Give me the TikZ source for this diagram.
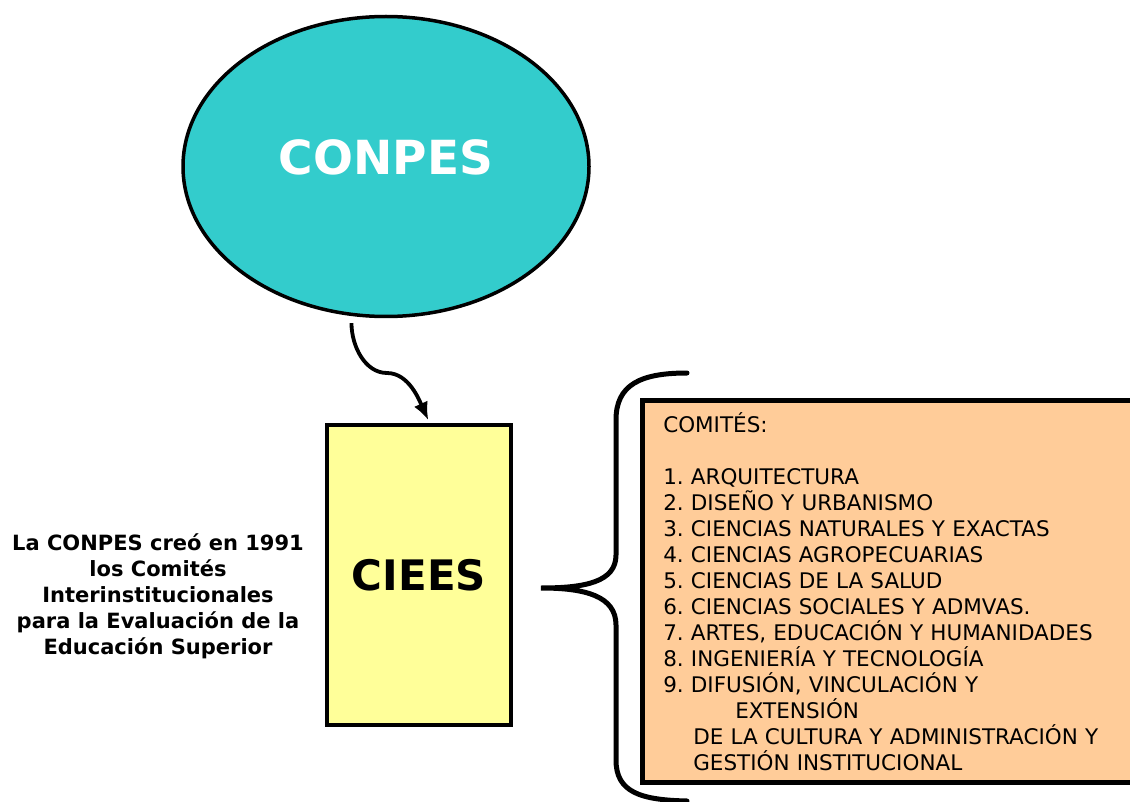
\documentclass[tikz,border=0pt]{standalone}
\usepackage{fontspec}
\setmainfont{DejaVu Sans}
\usetikzlibrary{positioning,shapes,arrows.meta}
\definecolor{turquesa}{RGB}{51,204,204}
\definecolor{amarillo}{RGB}{255,255,153}
\definecolor{durazno}{RGB}{255,204,153}
\frenchspacing

\begin{document}
\begin{tikzpicture}
 		[x=1pt, y=-1pt,
 		elipse/.style={ellipse, draw=black, line width=3.5pt, fill=turquesa,
 			minimum width=406pt, minimum height=300pt, inner sep=0pt,
 			text=white, font=\fontsize{47}{50}\selectfont\bfseries},
 		caja/.style={rectangle, draw=black, line width=4pt, fill=amarillo,
 			minimum width=184pt, minimum height=300pt, inner sep=0pt,
 			font=\fontsize{42}{46}\selectfont\bfseries},
 		lista/.style={rectangle, draw=black, line width=4.5pt, fill=durazno,
 			minimum width=510pt, minimum height=382pt, inner xsep=21pt,
 			text width=468pt, align=left, font=\fontsize{21.5}{26}\selectfont},
 		nota/.style={align=center, font=\fontsize{21}{26}\selectfont\bfseries},
 		flecha/.style={line width=3.8pt, -{Latex[length=18pt,width=15pt]}},
 		llave/.style={line width=5pt, line cap=round},
 		]
 		\useasboundingbox (0,0) rectangle (1130,802);
 		\node[elipse] (conpes) at (386,166.5) {\raisebox{18pt}{CONPES}};
 		\node[caja] (ciees) at (419,575) {\raisebox{-10pt}{CIEES}};
 		\node[nota] (creo) at (158,596) {La CONPES creó en 1991\\los Comités\\Interinstitucionales\\para la Evaluación de la\\Educación Superior};
 		\begin{scope}
 		\clip (0,0) rectangle (1130,802);
 		\node[lista, anchor=north west] (comites) at (640,398) {COMITÉS:\\[26pt]
 			1. ARQUITECTURA\\
 			2. DISEÑO Y URBANISMO\\
 			3. CIENCIAS NATURALES Y EXACTAS\\
 			4. CIENCIAS AGROPECUARIAS\\
 			5. CIENCIAS DE LA SALUD\\
 			6. CIENCIAS SOCIALES Y ADMVAS.\\
 			7. ARTES, EDUCACIÓN Y HUMANIDADES\\
 			8. INGENIERÍA Y TECNOLOGÍA\\
 			9. DIFUSIÓN, VINCULACIÓN Y\\
 			\hspace*{72pt}EXTENSIÓN\\
 			\hspace*{30pt}DE LA CULTURA Y ADMINISTRACIÓN Y\\
 			\hspace*{30pt}GESTIÓN INSTITUCIONAL};
 		\end{scope}
 		
 		\coordinate (codo) at (387,373);
 		\draw[flecha, shorten <=7pt, shorten >=3pt] (conpes.257)
 			.. controls +(0,30) and +(-22,0) .. (codo)
 			.. controls +(22,0) and +(-10,-22) .. (ciees.86.6);
 		%llave
 		\draw[llave] (687,373) .. controls (640,373) and (616,385) .. (616,420)
 			-- (616,555) .. controls (616,582) and (585,588) .. (541,588)
 			.. controls (585,588) and (616,596) .. (616,625)
 			-- (616,760) .. controls (616,792) and (640,800) .. (687,801);
 	\end{tikzpicture}
\end{document}
